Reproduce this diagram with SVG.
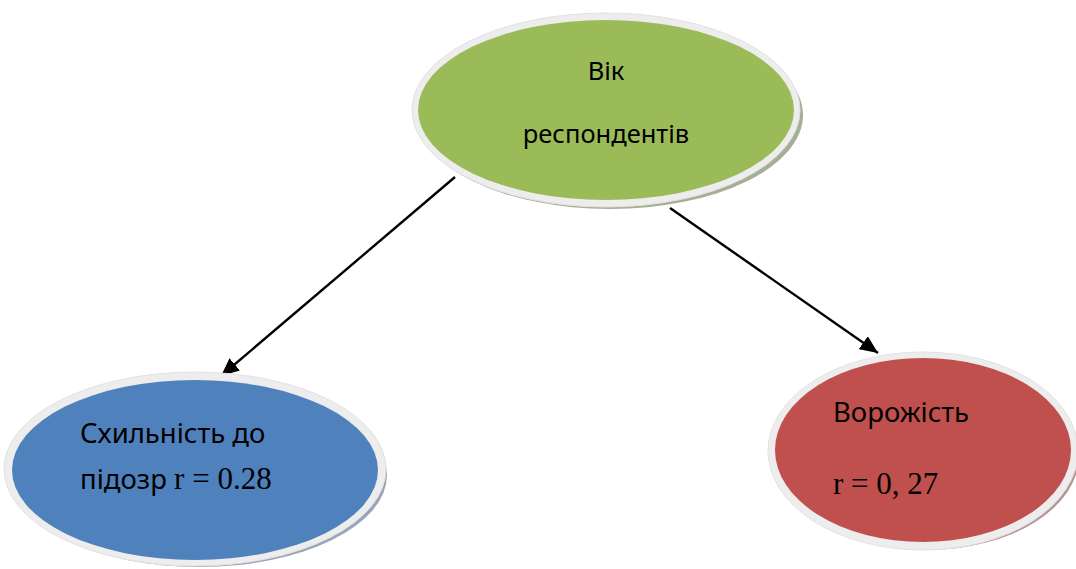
<svg xmlns="http://www.w3.org/2000/svg" width="1076" height="569" viewBox="0 0 1076 569">
<defs>
<style>
.rim{fill:#ededed;stroke:#e2e2e2;stroke-width:1}
.lbl{font-family:"Noto Sans","Open Sans",sans-serif;font-size:25.5px;fill:#000}
.lbl2{font-family:"Noto Sans","Open Sans",sans-serif;font-size:27.5px;fill:#000}
.num{font-family:"Liberation Serif","Times New Roman",serif;font-size:31px;fill:#000}
.conn{stroke:#000;stroke-width:2.4;fill:none}
</style>
<marker id="arrow" viewBox="0 0 18 16" refX="18" refY="8" markerWidth="18" markerHeight="16" markerUnits="userSpaceOnUse" orient="auto">
<path d="M0,0 L18,8 L0,16 z" fill="#000"/>
</marker>
</defs>
<rect width="1076" height="569" fill="#fff"/>
<g id="connectors">
<line class="conn" x1="455" y1="177" x2="221" y2="376" marker-end="url(#arrow)"/>
<line class="conn" x1="670" y1="208" x2="878" y2="353" marker-end="url(#arrow)"/>
</g>
<g id="node-age">
<ellipse cx="610" cy="115" rx="193" ry="94" fill="#8e9b78" opacity="0.8"/>
<ellipse class="rim" cx="606" cy="110" rx="194" ry="97"/>
<ellipse cx="606" cy="110" rx="188" ry="90" fill="#9bbb59"/>
<text class="lbl" x="606" y="80" text-anchor="middle">Вік</text>
<text class="lbl" x="606" y="143" text-anchor="middle">респондентів</text>
</g>
<g id="node-suspicion">
<ellipse cx="199" cy="475" rx="188" ry="92" fill="#7e8ea8" opacity="0.8"/>
<ellipse class="rim" cx="195" cy="469" rx="191" ry="97"/>
<ellipse cx="195" cy="470" rx="183" ry="90" fill="#4f81bd"/>
<text x="80" y="443" class="lbl2">Схильність до</text>
<text x="80" y="489"><tspan class="lbl2">підозр </tspan><tspan class="num">r = 0.28</tspan></text>
</g>
<g id="node-hostility">
<ellipse cx="927" cy="456" rx="152" ry="94" fill="#a07a78" opacity="0.8"/>
<ellipse class="rim" cx="923" cy="451" rx="155" ry="99"/>
<ellipse cx="923" cy="450" rx="148" ry="92" fill="#c0504d"/>
<text x="833" y="422" class="lbl2">Ворожість</text>
<text x="833" y="494" class="num">r = 0, 27</text>
</g>
</svg>
